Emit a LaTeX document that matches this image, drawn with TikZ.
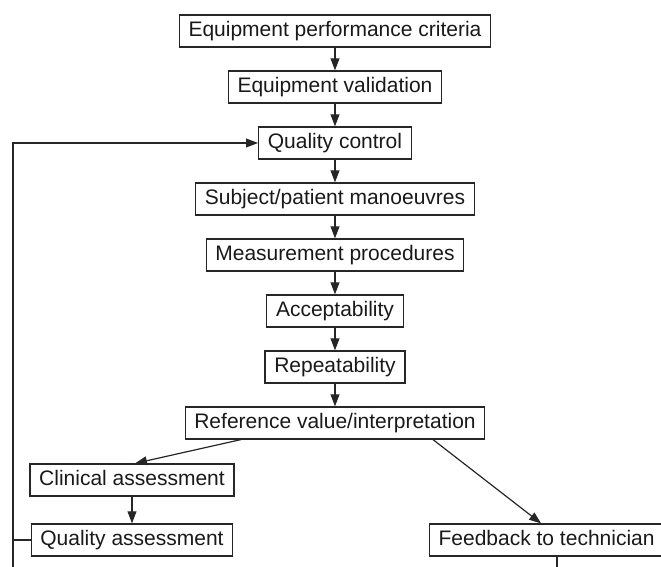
\documentclass[tikz,border=0pt]{standalone}
\usepackage{fontspec}
\setmainfont{Liberation Sans}
\usetikzlibrary{arrows.meta, positioning}

\begin{document}
\begin{tikzpicture}[node distance=28pt,on grid,>={Triangle[length=6pt,width=4.4pt]},
      line width=0.6pt,
      every node/.style={font=\fontsize{10.5}{12.6}\selectfont,text=black!90},
      every edge/.style={draw=black!85},
      stepbox/.style={draw=black!85,line width=0.6pt,inner xsep=4.6pt,inner ysep=0pt,
        minimum height=16pt,text height=7.6pt,text depth=2.2pt}]
      \useasboundingbox (0,0) rectangle (330.5pt,-283.5pt);
      \node[stepbox] (epc) at (167.5pt,-15.5pt) {Equipment performance criteria};
      \node[stepbox] (ev)  [below=of epc] {Equipment validation};
      \node[stepbox] (qc)  [below=of ev] {Quality control};
      \node[stepbox] (spm) [below=of qc] {Subject/patient manoeuvres};
      \node[stepbox] (mp)  [below=of spm] {Measurement procedures};
      \node[stepbox] (acc) [below=of mp] {Acceptability};
      \node[stepbox] (rep) [below=of acc] {Repeatability};
      \node[stepbox] (rvi) [below=of rep] {Reference value/interpretation};
      \node[stepbox] (ca)  [below left=28.5pt and 101.5pt of rvi] {Clinical assessment};
      \node[stepbox] (qa)  [below=30pt of ca] {Quality assessment};
      \node[stepbox] (fbt) [below right=58.5pt and 105.8pt of rvi] {Feedback to technician};
      % loop ends leave the picture at its bottom edge
      \coordinate (loopbot) at (6.5pt,-283.5pt);
      \coordinate (fbend) at ([xshift=5.25pt]fbt.south |- loopbot);
      \path[->]
      (epc) edge (ev)
      (ev) edge (qc)
      (qc) edge (spm)
      (spm) edge (mp)
      (mp) edge (acc)
      (acc) edge (rep)
      (rep) edge (rvi)
      ([xshift=-47pt]rvi.south) edge ([xshift=1.5pt]ca.north)
      ([xshift=49pt]rvi.south) edge ([xshift=-2.75pt]fbt.north)
      (ca) edge (qa);
      \draw[->,black!85] (loopbot) |- (qc.west);
      \draw[black!85] (qa.west) -- (qa.west -| loopbot);
      \draw[black!85] ([xshift=5.25pt]fbt.south) -- (fbend);
    \end{tikzpicture}
\end{document}
